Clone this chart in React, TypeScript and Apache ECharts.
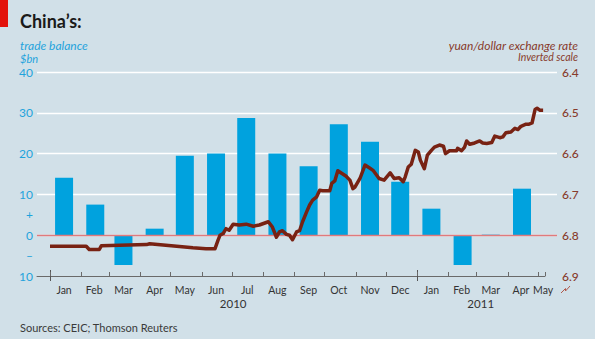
import React, { useEffect, useRef } from 'react';
import * as echarts from 'echarts';

const monthNames = ['Jan', 'Feb', 'Mar', 'Apr', 'May', 'Jun', 'Jul', 'Aug', 'Sep', 'Oct', 'Nov', 'Dec'];

const tradeMonths = [
  '2010-01-15', '2010-02-15', '2010-03-15', '2010-04-15', '2010-05-15', '2010-06-15',
  '2010-07-15', '2010-08-15', '2010-09-15', '2010-10-15', '2010-11-15', '2010-12-15',
  '2011-01-15', '2011-02-15', '2011-03-15', '2011-04-15',
];
const tradeBalance = [14.1, 7.5, -7.3, 1.6, 19.5, 20.0, 28.7, 20.0, 16.9, 27.2, 22.9, 13.1, 6.5, -7.3, 0.14, 11.4];

const rateDates = [
  '2010-01-01', '2010-02-06', '2010-02-09', '2010-02-19', '2010-02-21', '2010-04-07', '2010-04-10',
  '2010-05-23', '2010-06-05', '2010-06-14', '2010-06-17', '2010-06-19', '2010-06-22', '2010-06-25',
  '2010-06-28', '2010-07-02', '2010-07-08', '2010-07-15', '2010-07-22', '2010-07-28', '2010-08-06',
  '2010-08-10', '2010-08-14', '2010-08-17', '2010-08-20', '2010-08-24', '2010-08-27', '2010-08-30',
  '2010-09-03', '2010-09-06', '2010-09-09', '2010-09-13', '2010-09-16', '2010-09-19', '2010-09-23',
  '2010-09-26', '2010-09-29', '2010-10-06', '2010-10-08', '2010-10-11', '2010-10-14', '2010-10-17',
  '2010-10-22', '2010-10-26', '2010-10-29', '2010-10-31', '2010-11-05', '2010-11-10', '2010-11-15',
  '2010-11-18', '2010-11-24', '2010-11-29', '2010-12-05', '2010-12-09', '2010-12-14', '2010-12-18',
  '2010-12-20', '2010-12-23', '2010-12-26', '2010-12-30', '2011-01-02', '2011-01-04', '2011-01-08',
  '2011-01-11', '2011-01-15', '2011-01-18', '2011-01-23', '2011-01-27', '2011-01-29', '2011-02-02',
  '2011-02-09', '2011-02-10', '2011-02-14', '2011-02-17', '2011-02-19', '2011-02-22', '2011-02-27',
  '2011-03-04', '2011-03-07', '2011-03-11', '2011-03-16', '2011-03-19', '2011-03-24', '2011-03-27',
  '2011-03-30', '2011-04-04', '2011-04-08', '2011-04-11', '2011-04-14', '2011-04-19', '2011-04-22',
  '2011-04-25', '2011-04-28', '2011-04-30', '2011-05-03', '2011-05-06',
];
const rateValues = [
  6.827, 6.827, 6.835, 6.835, 6.826, 6.823, 6.821,
  6.831, 6.833, 6.833, 6.812, 6.800, 6.796, 6.784,
  6.788, 6.773, 6.775, 6.773, 6.778, 6.775, 6.767,
  6.780, 6.805, 6.792, 6.789, 6.798, 6.800, 6.811,
  6.792, 6.789, 6.767, 6.743, 6.726, 6.714, 6.706,
  6.690, 6.691, 6.691, 6.673, 6.667, 6.642, 6.647,
  6.655, 6.665, 6.686, 6.682, 6.661, 6.628, 6.636,
  6.641, 6.661, 6.665, 6.647, 6.661, 6.659, 6.669,
  6.657, 6.633, 6.626, 6.592, 6.596, 6.616, 6.637,
  6.604, 6.592, 6.584, 6.579, 6.582, 6.600, 6.593,
  6.593, 6.587, 6.593, 6.584, 6.569, 6.577, 6.574,
  6.569, 6.574, 6.575, 6.573, 6.557, 6.561, 6.559,
  6.549, 6.547, 6.538, 6.541, 6.533, 6.528, 6.528,
  6.525, 6.492, 6.489, 6.494, 6.494,
];

const monthTickDates = [
  '2010-01-01', '2010-02-01', '2010-03-01', '2010-04-01', '2010-05-01', '2010-06-01',
  '2010-07-01', '2010-08-01', '2010-09-01', '2010-10-01', '2010-11-01', '2010-12-01',
  '2011-01-01', '2011-02-01', '2011-03-01', '2011-04-01', '2011-05-01',
];
const monthLabelDates = [
  '2010-01-15', '2010-02-14', '2010-03-15', '2010-04-15', '2010-05-15', '2010-06-15',
  '2010-07-16', '2010-08-15', '2010-09-15', '2010-10-15', '2010-11-15', '2010-12-15',
  '2011-01-15', '2011-02-14', '2011-03-15', '2011-04-14', '2011-05-06',
];
const yearTickDates = ['2010-01-01', '2011-01-01'];
const yearLabelDates = ['2010-07-02', '2011-03-05'];
const leftLabelValues = [-10, -5, 0, 5, 10, 20, 30, 40];

const parseDate = (s: string) => {
  const [y, m, d] = s.split('-').map(Number);
  return new Date(y, m - 1, d).getTime();
};

export default function App() {
  const ref = useRef<HTMLDivElement>(null);
  useEffect(() => {
    if (!ref.current) return;
    const chart = echarts.init(ref.current, null, { renderer: 'svg' });
    const DAY = 86400000;
    const t0 = new Date(2010, 0, 1).getTime();
    const axMin = t0 - 12.9 * DAY;
    const axMax = t0 + 503.8 * DAY;
    const axEnd = t0 + 491.9 * DAY;
    const font = 'Lato, "Noto Sans", sans-serif';
    const blue = '#1fa3dc';
    const brown = '#883b2c';

    const option: any = {
      animation: false,
      backgroundColor: '#d1e0e8',
      textStyle: { fontFamily: font },
      grid: [
        { left: 37, right: 38, top: 72, bottom: 63 },
        { left: 37, right: 50, top: 72, bottom: 63 },
      ],
      xAxis: [
        {
          type: 'value', gridIndex: 0, position: 'bottom', min: axMin, max: axMax,
          axisLine: { show: false, onZero: false }, axisTick: { show: false }, splitLine: { show: false },
          axisLabel: {
            customValues: monthLabelDates.map(parseDate),
            formatter: (v: number) => monthNames[new Date(v).getMonth()],
            color: '#333', fontSize: 10.5, margin: 8, hideOverlap: false,
            showMinLabel: true, showMaxLabel: true,
          },
        },
        {
          type: 'value', gridIndex: 0, position: 'bottom', offset: -6, min: axMin, max: axMax,
          axisLine: { show: false, onZero: false }, splitLine: { show: false },
          axisTick: { show: true, customValues: yearTickDates.map(parseDate), length: 11, lineStyle: { color: '#555', width: 1 } },
          axisLabel: {
            customValues: yearLabelDates.map(parseDate),
            formatter: (v: number) => String(new Date(v).getFullYear()),
            color: '#333', fontSize: 11.5, margin: 27, hideOverlap: false,
            showMinLabel: true, showMaxLabel: true,
          },
        },
        {
          type: 'value', gridIndex: 1, position: 'bottom', min: axMin, max: axEnd,
          axisLine: { show: true, onZero: false, lineStyle: { color: '#6a6a6a', width: 1 } },
          axisTick: { show: true, inside: true, length: 4, customValues: [...monthTickDates.map(parseDate), axEnd], lineStyle: { color: '#6a6a6a' } },
          axisLabel: { show: false }, splitLine: { show: false },
        },
      ],
      yAxis: [
        {
          type: 'value', gridIndex: 0, position: 'left', min: -10, max: 40, interval: 10,
          axisLine: { show: false }, axisTick: { show: false },
          splitLine: { show: true, showMinLine: false, lineStyle: { color: '#ffffff', width: 1.3 } },
          axisLabel: {
            customValues: leftLabelValues,
            formatter: (v: number) => (v === 5 ? '+' : v === -5 ? '–' : String(Math.abs(v))),
            color: blue, fontSize: 12, margin: 4,
          },
        },
        {
          type: 'value', gridIndex: 0, position: 'right', inverse: true, min: 6.4, max: 6.9, interval: 0.1,
          axisLine: { show: false }, axisTick: { show: false }, splitLine: { show: false },
          axisLabel: { formatter: (v: number) => v.toFixed(1), color: brown, fontSize: 12, margin: 5, fontWeight: 500 },
        },
        { type: 'value', gridIndex: 1, min: 0, max: 1, show: false },
      ],
      series: [
        {
          type: 'bar', xAxisIndex: 0, yAxisIndex: 0, barWidth: 18,
          data: tradeMonths.map((m, i) => [parseDate(m), tradeBalance[i]]),
          itemStyle: { color: '#00a2de' },
          markLine: {
            silent: true, symbol: 'none', label: { show: false },
            lineStyle: { color: '#e07a7c', width: 1.3, type: 'solid' },
            data: [{ yAxis: 0 }],
          },
        },
        {
          type: 'line', xAxisIndex: 0, yAxisIndex: 1, showSymbol: false, z: 5,
          data: rateDates.map((d, i) => [parseDate(d), rateValues[i]]),
          lineStyle: { color: '#782213', width: 3.5, join: 'round' },
        },
      ],
      graphic: [
        { type: 'rect', shape: { x: 0, y: 0, width: 8, height: 27 }, style: { fill: '#e3120b' } },
        { type: 'text', x: 20, y: 21, style: { text: 'China’s:', font: `bold 18px ${font}`, fill: '#1a1a1a', verticalAlign: 'middle' } },
        { type: 'text', x: 20, y: 45, style: { text: 'trade balance', font: `italic 12px ${font}`, fill: blue, verticalAlign: 'middle' } },
        { type: 'text', x: 20, y: 58, style: { text: '$bn', font: `italic 11px ${font}`, fill: blue, verticalAlign: 'middle' } },
        { type: 'text', x: 578, y: 45, style: { text: 'yuan/dollar exchange rate', font: `italic 12px ${font}`, fill: brown, align: 'right', verticalAlign: 'middle' } },
        { type: 'text', x: 578, y: 57, style: { text: 'Inverted scale', font: `italic 10.5px ${font}`, fill: brown, align: 'right', verticalAlign: 'middle' } },
        { type: 'text', x: 20, y: 327, style: { text: 'Sources: CEIC; Thomson Reuters', font: `11px ${font}`, fill: '#3a3a3a', verticalAlign: 'middle' } },
        { type: 'polyline', shape: { points: [[561, 293], [565.5, 288.5], [565.5, 291], [570, 286]] }, style: { stroke: '#b0584a', lineWidth: 1, fill: 'none' } },
      ],
    };
    chart.setOption(option);
    return () => chart.dispose();
  }, []);
  return <div ref={ref} style={{ position: 'fixed', left: 0, top: 0, width: 595, height: 339 }} />;
}
